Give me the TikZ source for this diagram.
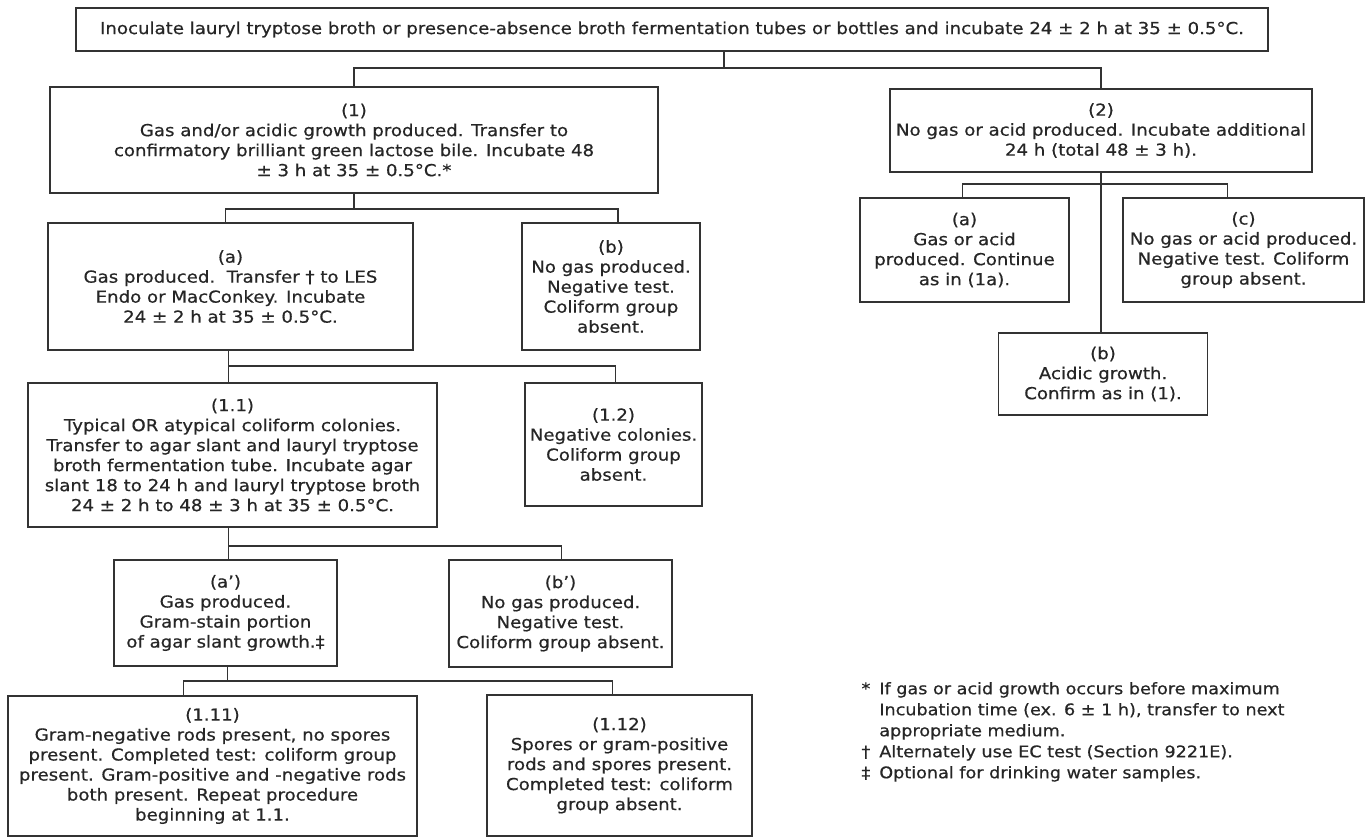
\documentclass[tikz,border=0pt]{standalone}
\usepackage{fontspec}
\setmainfont{DejaVu Sans}[FakeStretch=1.1, FakeBold=0.6]
\tikzset{
  flowbox/.style={draw=black!80, line width=1.8pt, rectangle, align=center, inner xsep=1pt, inner ysep=2pt, text=black!85},
  link/.style={draw=black!80, line width=1.8pt}
}
\begin{document}
\begin{tikzpicture}[x=1pt, y=-1pt, font=\fontsize{16.5}{20}\selectfont]
\useasboundingbox (0,0) rectangle (1368,838);
\node[flowbox, minimum width=1192pt, minimum height=43pt] (inoc) at (672,29.5) {Inoculate lauryl tryptose broth or presence-absence broth fermentation tubes or bottles and incubate 24 ± 2 h at 35 ± 0.5°C.};
\node[flowbox, minimum width=608pt, minimum height=106pt] (gas) at (354,140) {(1)\\Gas and/or acidic growth produced. Transfer to\\confirmatory brilliant green lactose bile. Incubate 48\\± 3 h at 35 ± 0.5°C.*};
\node[flowbox, minimum width=422pt, minimum height=83pt] (nogas) at (1101,130.5) {(2)\\No gas or acid produced. Incubate additional\\24 h (total 48 ± 3 h).};
\node[flowbox, minimum width=365pt, minimum height=127pt] (gasa) at (230.5,286.5) {(a)\\Gas produced.\ \ Transfer † to LES\\Endo or MacConkey. Incubate\\24 ± 2 h at 35 ± 0.5°C.};
\node[flowbox, minimum width=178pt, minimum height=127pt] (gasb) at (611,286.5) {(b)\\No gas produced.\\Negative test.\\Coliform group\\absent.};
\node[flowbox, minimum width=409pt, minimum height=144pt] (col) at (232.5,455) {(1.1)\\Typical OR atypical coliform colonies.\\Transfer to agar slant and lauryl tryptose\\broth fermentation tube. Incubate agar\\slant 18 to 24 h and lauryl tryptose broth\\24 ± 2 h to 48 ± 3 h at 35 ± 0.5°C.};
\node[flowbox, minimum width=177pt, minimum height=123pt] (negcol) at (613.5,444.5) {(1.2)\\Negative colonies.\\Coliform group\\absent.};
\node[flowbox, minimum width=223pt, minimum height=106pt] (slanta) at (225.5,613) {(a')\\Gas produced.\\Gram-stain portion\\of agar slant growth.‡};
\node[flowbox, minimum width=223pt, minimum height=107pt] (slantb) at (560.5,613.5) {(b')\\No gas produced.\\Negative test.\\Coliform group absent.};
\node[flowbox, minimum width=409pt, minimum height=140pt] (gramneg) at (212.5,766) {(1.11)\\Gram-negative rods present, no spores\\present. Completed test: coliform group\\present. Gram-positive and -negative rods\\both present. Repeat procedure\\beginning at 1.1.};
\node[flowbox, minimum width=265pt, minimum height=141pt] (grampos) at (619.5,765.5) {(1.12)\\Spores or gram-positive\\rods and spores present.\\Completed test: coliform\\group absent.};
\node[flowbox, minimum width=209pt, minimum height=104pt] (extra) at (964.5,250) {(a)\\Gas or acid\\produced. Continue\\as in (1a).};
\node[flowbox, minimum width=241pt, minimum height=104pt] (extrc) at (1243.5,250) {(c)\\No gas or acid produced.\\Negative test. Coliform\\group absent.};
\node[flowbox, minimum width=209pt, minimum height=82pt] (extrb) at (1103,374) {(b)\\Acidic growth.\\Confirm as in (1).};
\node[anchor=north west, align=left, text=black!85, font=\fontsize{16}{21}\selectfont] (notes) at (858,676) {\begin{tabular}{@{}l@{\hspace{9pt}}l@{}}*&If gas or acid growth occurs before maximum\\&Incubation time (ex. 6 ± 1 h), transfer to next\\&appropriate medium.\\†&Alternately use EC test (Section 9221E).\\‡&Optional for drinking water samples.\end{tabular}};
\coordinate (j0) at (724,68);
\draw[link] (inoc.south -| j0) -- (j0);
\draw[link] (gas.north) |- (j0) -| (nogas.north);
\draw[link] (gas.south) -- ++(0,15) coordinate (j1);
\draw[link] ([xshift=-5pt]gasa.north) |- (j1) -| ([xshift=7pt]gasb.north);
\draw[link] ([xshift=-2pt]gasa.south) -- ([xshift=-2pt]gasa.south |- col.north);
\draw[link] ([xshift=-2pt]gasa.south) ++(0,15) -| ([xshift=2pt]negcol.north);
\draw[link] ([xshift=-4pt]col.south) -- ([xshift=-4pt]col.south |- slanta.north);
\draw[link] ([xshift=-4pt]col.south) ++(0,18) -| ([xshift=1pt]slantb.north);
\draw[link] ([xshift=2pt]slanta.south) -- ++(0,14) coordinate (j4);
\draw[link] ([xshift=-29pt]gramneg.north) |- (j4) -| ([xshift=-7pt]grampos.north);
\draw[link] (nogas.south) -- (nogas.south |- extrb.north);
\draw[link] (nogas.south) ++(0,11) coordinate (j5);
\draw[link] ([xshift=-2pt]extra.north) |- (j5) -| ([xshift=-16pt]extrc.north);
\end{tikzpicture}
\end{document}
